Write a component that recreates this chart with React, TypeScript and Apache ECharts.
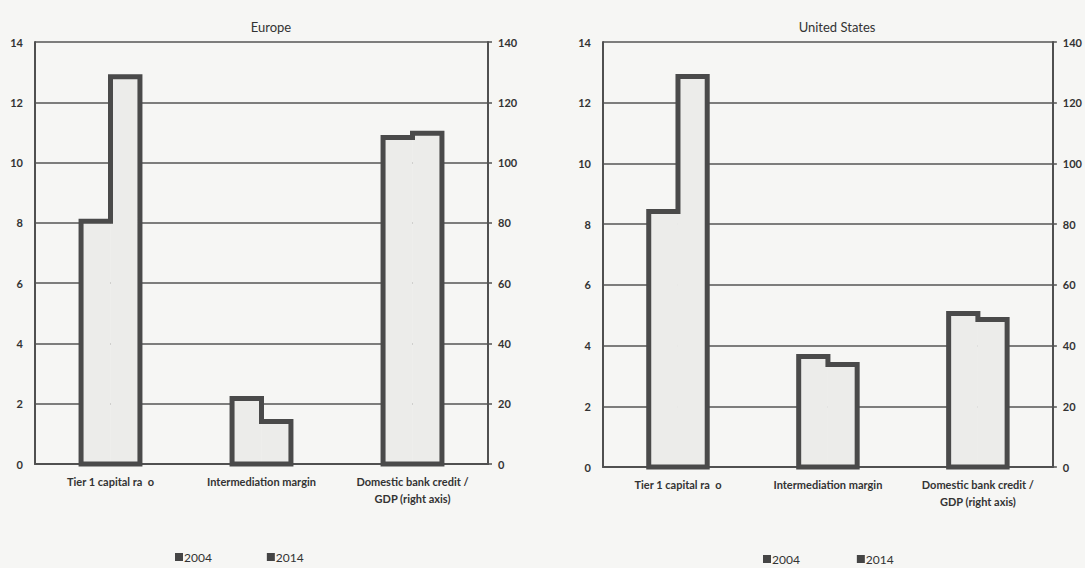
import React, { useEffect, useRef } from 'react';
import * as echarts from 'echarts';

const categories = ['Tier 1 capital ra  o', 'Intermediation margin', 'Domestic bank credit /\nGDP (right axis)'];
const panelTitles = ['Europe', 'United States'];
const years = ['2004', '2014'];
// last category is read on the right axis
const europe2004 = [8.05, 2.17, 108.3];
const europe2014 = [12.85, 1.41, 109.7];
const us2004 = [8.42, 3.64, 50.6];
const us2014 = [12.86, 3.38, 48.6];
const leftAxisMax = 14;
const leftAxisStep = 2;
const rightAxisMax = 140;
const rightAxisStep = 20;
const RIGHT_CAT = 2;

const FONT = 'Lato, "Open Sans", sans-serif';
const FILL = '#ececea';
const OUTLINE = '#4a4a4a';
const AXIS = '#505050';
const BAR_FRAC = 0.195;

const barRender = (side: number) => (params: any, api: any) => {
  const cat = api.value(0);
  const v = api.value(1);
  const base = api.coord([cat, 0]);
  const top = api.coord([cat, v]);
  const bw = api.size([1, 0])[0] * BAR_FRAC;
  const x = side === 0 ? base[0] - bw : base[0];
  return {
    type: 'rect',
    shape: { x, y: top[1], width: bw, height: base[1] - top[1] },
    style: { fill: FILL },
  };
};

const outlineRender = (params: any, api: any) => {
  const cat = api.value(0);
  const a = api.value(1);
  const b = api.value(2);
  const base = api.coord([cat, 0]);
  const pa = api.coord([cat, a]);
  const pb = api.coord([cat, b]);
  const bw = api.size([1, 0])[0] * BAR_FRAC;
  const x0 = base[0] - bw;
  const x1 = base[0];
  const x2 = base[0] + bw;
  return {
    type: 'polygon',
    shape: {
      points: [
        [x0, base[1]],
        [x0, pa[1]],
        [x1, pa[1]],
        [x1, pb[1]],
        [x2, pb[1]],
        [x2, base[1]],
      ],
    },
    style: { fill: 'none', stroke: OUTLINE, lineWidth: 5, lineJoin: 'miter' },
  };
};

function panelSeries(gi: number, v04: number[], v14: number[]) {
  const leftIdx = [0, 1];
  const out: any[] = [];
  const vals = [v04, v14];
  vals.forEach((arr, yi) => {
    out.push({
      type: 'custom',
      name: years[yi],
      xAxisIndex: gi,
      yAxisIndex: gi * 2,
      itemStyle: { color: '#454545' },
      renderItem: barRender(yi),
      data: leftIdx.map((i) => [i, arr[i]]),
      z: 2,
    });
    out.push({
      type: 'custom',
      name: years[yi],
      xAxisIndex: gi,
      yAxisIndex: gi * 2 + 1,
      itemStyle: { color: '#454545' },
      renderItem: barRender(yi),
      data: [[RIGHT_CAT, arr[RIGHT_CAT]]],
      z: 2,
    });
  });
  out.push({
    type: 'custom',
    name: 'outline' + gi,
    xAxisIndex: gi,
    yAxisIndex: gi * 2,
    renderItem: outlineRender,
    data: leftIdx.map((i) => [i, v04[i], v14[i]]),
    z: 3,
    silent: true,
  });
  out.push({
    type: 'custom',
    name: 'outlineR' + gi,
    xAxisIndex: gi,
    yAxisIndex: gi * 2 + 1,
    renderItem: outlineRender,
    data: [[RIGHT_CAT, v04[RIGHT_CAT], v14[RIGHT_CAT]]],
    z: 3,
    silent: true,
  });
  return out;
}

const labelStyle = { fontFamily: FONT, fontSize: 11, fontWeight: 'bold' as const, color: '#333333' };

function yAxes(gi: number) {
  return [
    {
      type: 'value',
      gridIndex: gi,
      position: 'left',
      min: 0,
      max: leftAxisMax,
      interval: leftAxisStep,
      axisLine: { show: true, lineStyle: { color: AXIS, width: 2 } },
      axisTick: { show: false },
      axisLabel: { ...labelStyle, margin: 12 },
      splitLine: { show: true, lineStyle: { color: '#555555', width: 1.5 } },
    },
    {
      type: 'value',
      gridIndex: gi,
      position: 'right',
      min: 0,
      max: rightAxisMax,
      interval: rightAxisStep,
      axisLine: { show: true, lineStyle: { color: AXIS, width: 2 } },
      axisTick: { show: true, length: 4, lineStyle: { color: AXIS, width: 1.5 } },
      axisLabel: { ...labelStyle, margin: 10 },
      splitLine: { show: false },
    },
  ];
}

function xAxis(gi: number) {
  return {
    type: 'category',
    gridIndex: gi,
    data: categories,
    axisLine: { show: true, lineStyle: { color: AXIS, width: 2 } },
    axisTick: { show: false },
    axisLabel: { ...labelStyle, interval: 0, margin: 9, lineHeight: 17 },
  };
}

const legendText = { fontFamily: FONT, fontSize: 12, color: '#333', padding: [0, 0, 0, -4] };

export default function App() {
  const ref = useRef<HTMLDivElement>(null);
  useEffect(() => {
    document.body.style.margin = '0';
    if (!ref.current) return;
    const chart = echarts.init(ref.current, undefined, { renderer: 'svg' });
    chart.setOption({
      animation: false,
      backgroundColor: '#f6f6f4',
      title: [
        { text: panelTitles[0], left: 266, top: 15, textAlign: 'center', textStyle: { fontFamily: FONT, fontSize: 13, fontWeight: 'normal', color: '#333' } },
        { text: panelTitles[1], left: 832, top: 15, textAlign: 'center', textStyle: { fontFamily: FONT, fontSize: 13, fontWeight: 'normal', color: '#333' } },
      ],
      legend: [
        {
          data: years,
          left: 170,
          top: 546,
          icon: 'rect',
          itemWidth: 8,
          itemHeight: 8,
          itemGap: 55,
          selectedMode: false,
          textStyle: legendText,
        },
        {
          data: years,
          left: 758,
          top: 548,
          icon: 'rect',
          itemWidth: 8,
          itemHeight: 8,
          itemGap: 57,
          selectedMode: false,
          textStyle: legendText,
        },
      ],
      grid: [
        { left: 35, top: 42, width: 453, height: 422 },
        { left: 603, top: 42, width: 450, height: 425 },
      ],
      xAxis: [xAxis(0), xAxis(1)],
      yAxis: [...yAxes(0), ...yAxes(1)],
      series: [...panelSeries(0, europe2004, europe2014), ...panelSeries(1, us2004, us2014)],
    });
    return () => chart.dispose();
  }, []);
  return <div ref={ref} style={{ width: 1085, height: 568 }} />;
}
